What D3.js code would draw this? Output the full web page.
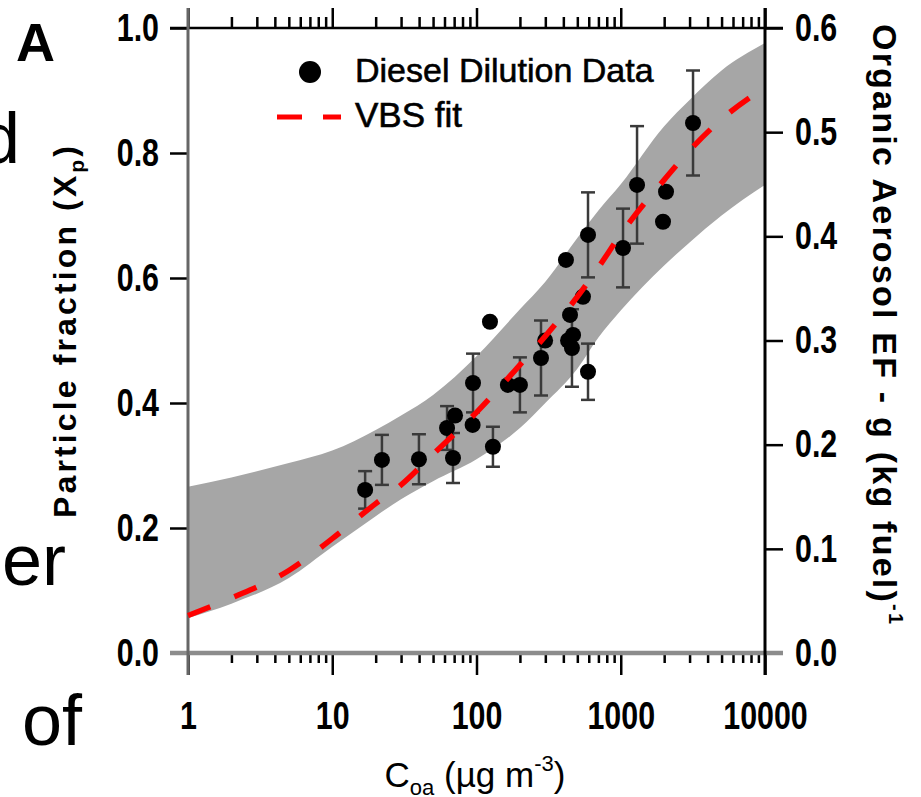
<!DOCTYPE html>
<html>
<head>
<meta charset="utf-8">
<script src="https://cdnjs.cloudflare.com/ajax/libs/d3/7.8.5/d3.min.js"></script>
<style>
body{margin:0;background:#fff;}
.tick text{font-family:"Liberation Sans",Arial,sans-serif;font-weight:bold;font-size:38px;fill:#000;}
.lab{font-family:"Liberation Sans",Arial,sans-serif;fill:#000;}
</style>
</head>
<body>
<script>
// dilution data
var coa   = [16.9, 22.1, 39.9, 62.5, 71, 68.7, 94.6, 94, 124, 130, 165, 200, 280, 299, 417, 445, 467, 431, 459, 547, 593, 593, 1037, 1297, 2060, 1963, 3170];
var xp    = [0.261, 0.309, 0.310, 0.36, 0.38, 0.312, 0.432, 0.365, 0.53, 0.33, 0.429, 0.429, 0.472, 0.50, 0.629, 0.541, 0.509, 0.50, 0.488, 0.57, 0.669, 0.45, 0.648, 0.749, 0.738, 0.69, 0.848];
var xpErr = [0.03, 0.04, 0.04, 0.035, null, 0.04, 0.047, null, null, 0.032, null, 0.044, 0.06, null, null, null, null, null, 0.062, null, 0.068, 0.045, 0.063, 0.094, null, null, 0.084];

// VBS fit and its uncertainty band
var fitC   = [1, 2, 5, 10, 20, 30, 50, 100, 200, 300, 500, 700, 1000, 2000, 3000, 5000, 10000];
var fitXp  = [0.06, 0.088, 0.132, 0.183, 0.239, 0.269, 0.318, 0.385, 0.461, 0.507, 0.57, 0.617, 0.67, 0.757, 0.804, 0.854, 0.905];
var bandHi = [0.266, 0.281, 0.304, 0.324, 0.357, 0.38, 0.413, 0.475, 0.55, 0.594, 0.664, 0.708, 0.75, 0.843, 0.885, 0.932, 0.976];
var bandLo = [0.056, 0.079, 0.12, 0.17, 0.219, 0.246, 0.275, 0.31, 0.36, 0.40, 0.455, 0.505, 0.548, 0.62, 0.657, 0.70, 0.749];

// tick labels
var xTicks = [1, 10, 100, 1000, 10000];
var leftTicks = [0, 0.2, 0.4, 0.6, 0.8, 1.0];
var rightTicks = [0, 0.1, 0.2, 0.3, 0.4, 0.5, 0.6];

var width = 921, height = 797;
var svg = d3.select('body').append('svg')
    .attr('width', width)
    .attr('height', height)
    .style('background', '#fff');

var x = d3.scaleLog().domain([1, 10000]).range([188, 765]);
var y = d3.scaleLinear().domain([0, 1]).range([653, 28]);
var y2 = d3.scaleLinear().domain([0, 0.6]).range([653, 28]);

// text of the surrounding page, cut off at the left
svg.append('text').attr('class', 'lab').attr('x', -20).attr('y', 163).style('font-size', '72px').text('d');
svg.append('text').attr('class', 'lab').attr('x', 2).attr('y', 585).style('font-size', '72px').text('er');
svg.append('text').attr('class', 'lab').attr('x', 22).attr('y', 745).style('font-size', '72px').text('of');
svg.append('text').attr('class', 'lab').attr('x', 16).attr('y', 61)
    .style('font-size', '54px').style('font-weight', 'bold').text('A');

// band
var rows = fitC.map(function(c, i){ return {c: c, hi: bandHi[i], lo: bandLo[i], fit: fitXp[i]}; });
var area = d3.area()
    .x(function(d){ return x(d.c); })
    .y0(function(d){ return y(d.lo); })
    .y1(function(d){ return y(d.hi); })
    .curve(d3.curveMonotoneX);
svg.append('path').datum(rows).attr('d', area).attr('fill', '#a6a6a6');

// axes
var minor = x.ticks().filter(function(d){ return xTicks.indexOf(d) < 0; });
function noDomain(g){
    g.select('.domain').remove();
    g.selectAll('.tick line').attr('stroke-width', 2.5);
    // condensed look of the original labels
    g.selectAll('.tick text').each(function(){
        var w = this.getComputedTextLength();
        if (w > 0) d3.select(this).attr('textLength', w * 0.8).attr('lengthAdjust', 'spacingAndGlyphs');
    });
}

svg.append('g').attr('transform', 'translate(0,653)')
    .call(d3.axisBottom(x).tickValues(xTicks).tickFormat(d3.format('d')).tickSize(22).tickPadding(27))
    .call(noDomain);
svg.append('g').attr('transform', 'translate(0,653)')
    .call(d3.axisBottom(x).tickValues(minor).tickFormat('').tickSize(10))
    .call(noDomain);
svg.append('g').attr('transform', 'translate(0,28)')
    .call(d3.axisTop(x).tickValues(xTicks).tickFormat('').tickSize(20))
    .call(noDomain);
svg.append('g').attr('transform', 'translate(0,28)')
    .call(d3.axisTop(x).tickValues(minor).tickFormat('').tickSize(11))
    .call(noDomain);
svg.append('g').attr('transform', 'translate(188,0)')
    .call(d3.axisLeft(y).tickValues(leftTicks).tickFormat(d3.format('.1f')).tickSize(18).tickPadding(11))
    .call(noDomain);
svg.append('g').attr('transform', 'translate(765,0)')
    .call(d3.axisRight(y2).tickValues(rightTicks).tickFormat(d3.format('.1f')).tickSize(18).tickPadding(12))
    .call(noDomain);

// axis lines, running a bit past the corners
svg.append('line').attr('x1', 170).attr('x2', 783).attr('y1', y(1)).attr('y2', y(1))
    .attr('stroke', '#000').attr('stroke-width', 2.5);
svg.append('line').attr('x1', 170).attr('x2', 783).attr('y1', y(0)).attr('y2', y(0))
    .attr('stroke', '#8c8c8c').attr('stroke-width', 4.5);
svg.append('line').attr('x1', x(1)).attr('x2', x(1)).attr('y1', 8).attr('y2', 675)
    .attr('stroke', '#666').attr('stroke-width', 3);
svg.append('line').attr('x1', x(10000)).attr('x2', x(10000)).attr('y1', 8).attr('y2', 675)
    .attr('stroke', '#000').attr('stroke-width', 3);

// error bars and points
var pts = coa.map(function(c, i){ return {c: c, v: xp[i], e: xpErr[i]}; });
var withErr = pts.filter(function(d){ return d.e != null; });
var eb = svg.append('g').attr('stroke', '#3a3a3a').attr('stroke-width', 2.5);
eb.selectAll('.bar').data(withErr).enter().append('line')
    .attr('x1', function(d){ return x(d.c); }).attr('x2', function(d){ return x(d.c); })
    .attr('y1', function(d){ return y(d.v + d.e); }).attr('y2', function(d){ return y(d.v - d.e); });
eb.selectAll('.capt').data(withErr).enter().append('line')
    .attr('x1', function(d){ return x(d.c) - 7; }).attr('x2', function(d){ return x(d.c) + 7; })
    .attr('y1', function(d){ return y(d.v + d.e); }).attr('y2', function(d){ return y(d.v + d.e); });
eb.selectAll('.capb').data(withErr).enter().append('line')
    .attr('x1', function(d){ return x(d.c) - 7; }).attr('x2', function(d){ return x(d.c) + 7; })
    .attr('y1', function(d){ return y(d.v - d.e); }).attr('y2', function(d){ return y(d.v - d.e); });

svg.append('g').selectAll('circle').data(pts).enter().append('circle')
    .attr('cx', function(d){ return x(d.c); })
    .attr('cy', function(d){ return y(d.v); })
    .attr('r', 8)
    .attr('fill', '#000');

// fit line
var line = d3.line()
    .x(function(d){ return x(d.c); })
    .y(function(d){ return y(d.fit); })
    .curve(d3.curveMonotoneX);
svg.append('path').datum(rows).attr('d', line)
    .attr('fill', 'none').attr('stroke', '#ff0000').attr('stroke-width', 5.5)
    .attr('stroke-dasharray', '24,26');

// legend
svg.append('circle').attr('cx', 310).attr('cy', 72).attr('r', 11).attr('fill', '#000');
svg.append('text').attr('class', 'lab').attr('x', 355).attr('y', 82)
    .style('font-size', '34px').attr('stroke', '#000').attr('stroke-width', 0.6)
    .text('Diesel Dilution Data');
svg.append('line').attr('x1', 277).attr('x2', 341).attr('y1', 117).attr('y2', 117)
    .attr('stroke', '#ff0000').attr('stroke-width', 5).attr('stroke-dasharray', '25,21');
svg.append('text').attr('class', 'lab').attr('x', 355).attr('y', 127)
    .style('font-size', '35px').attr('stroke', '#000').attr('stroke-width', 0.6)
    .text('VBS fit');

// axis titles
var yl = svg.append('text').attr('class', 'lab')
    .attr('transform', 'translate(76,332) rotate(-90)')
    .attr('text-anchor', 'middle')
    .style('font-size', '32px').style('font-weight', 'bold')
    .attr('textLength', 372).attr('lengthAdjust', 'spacing');
yl.append('tspan').text('Particle fraction (X');
yl.append('tspan').attr('dy', 8).style('font-size', '21px').text('p');
yl.append('tspan').attr('dy', -8).text(')');

var yr = svg.append('text').attr('class', 'lab')
    .attr('transform', 'translate(873,24) rotate(90)')
    .style('font-size', '34px').style('font-weight', 'bold')
    .attr('textLength', 600).attr('lengthAdjust', 'spacing');
yr.append('tspan').text('Organic Aerosol EF - g (kg fuel)');
yr.append('tspan').attr('dy', -16).style('font-size', '20px').text('-1');

var xl = svg.append('text').attr('class', 'lab')
    .attr('x', 475).attr('y', 787)
    .attr('text-anchor', 'middle')
    .style('font-size', '35px');
xl.append('tspan').text('C');
xl.append('tspan').attr('dy', 8).style('font-size', '22px').text('oa');
xl.append('tspan').attr('dy', -8).text(' (\u00b5g m');
xl.append('tspan').attr('dy', -16).style('font-size', '22px').text('-3');
xl.append('tspan').attr('dy', 16).text(')');
</script>
</body>
</html>
